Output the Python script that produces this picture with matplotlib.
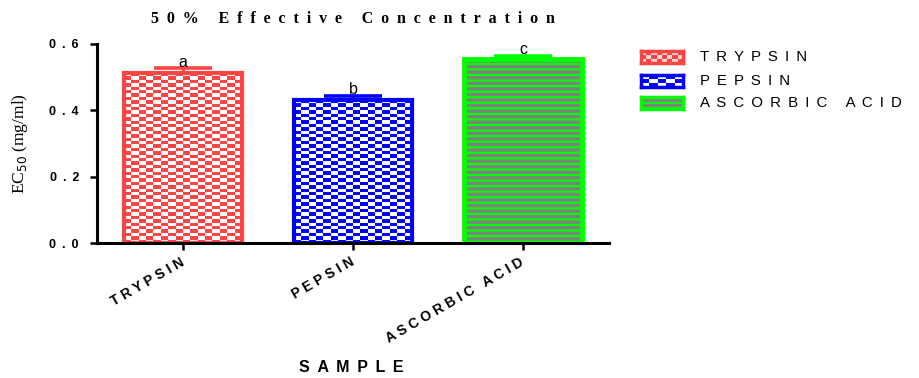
import numpy as np
import matplotlib
matplotlib.use("Agg")
import matplotlib.pyplot as plt
from matplotlib.colors import to_rgb

# EC50 values per sample, with upper error and significance letters
samples = ["TRYPSIN", "PEPSIN", "ASCORBIC ACID"]
ec50 = [0.512, 0.431, 0.555]
ec50_err = [0.015, 0.012, 0.009]
sig_letters = ["a", "b", "c"]
y_ticks = [0.0, 0.2, 0.4, 0.6]

red = "#fb4444"
blue = "#0000ff"
green = "#00ff00"
gray = "#808080"
colors = [red, blue, green]

SANS = ["Liberation Sans", "DejaVu Sans"]
SERIF = ["Liberation Serif", "DejaVu Serif"]


def spaced(text, gap="\u2009"):
    # wide letter spacing like the Prism export
    return gap.join(text)


def checker(color, nx, ny):
    img = np.ones((ny, nx, 3))
    mask = (np.add.outer(np.arange(ny), np.arange(nx)) % 2).astype(bool)
    img[mask] = to_rgb(color)
    return img


def stripes(line_color, fill_color, ny):
    img = np.ones((ny, 1, 3))
    img[:] = to_rgb(fill_color)
    img[::2] = to_rgb(line_color)
    return img


fig = plt.figure(figsize=(9.19, 3.78), dpi=100)
ax = fig.add_axes([97 / 919, 1 - 243 / 378, 512 / 919, 199 / 378])

x = np.arange(len(samples))
bar_w = 0.69
px_per_unit = 199 / 0.6

for i in range(len(samples)):
    if i < 2:
        bar = ax.bar(x[i], ec50[i], width=bar_w, facecolor="none",
                     edgecolor=colors[i], linewidth=3, zorder=2)[0]
        face = ax.bar(x[i], ec50[i], width=bar_w, facecolor="white",
                      edgecolor="none", zorder=1)[0]
        ny = int(round(ec50[i] * px_per_unit / 3.4))
        img = ax.imshow(checker(colors[i], 16, ny),
                        extent=(x[i] - bar_w / 2, x[i] + bar_w / 2, 0, ec50[i]),
                        aspect="auto", interpolation="nearest", zorder=1.5)
        img.set_clip_path(face)
    else:
        plt.rcParams["hatch.linewidth"] = 1.6
        ax.bar(x[i], ec50[i], width=bar_w, facecolor=gray, edgecolor=green,
               hatch="---", linewidth=3.5, zorder=2)
    ax.errorbar(x[i], ec50[i], yerr=[[0], [ec50_err[i]]], fmt="none",
                ecolor=colors[i], elinewidth=2.2, capsize=21, capthick=2.6,
                zorder=3)
    ax.text(x[i], ec50[i] + ec50_err[i] - 0.004, sig_letters[i],
            ha="center", va="bottom", fontsize=11.5, family=SANS)

ax.set_xlim(-0.506, 2.506)
ax.set_ylim(0, 0.6)

for side in ["top", "right"]:
    ax.spines[side].set_visible(False)
for side in ["left", "bottom"]:
    ax.spines[side].set_linewidth(2.2)

ax.set_yticks(y_ticks)
ax.set_yticklabels([spaced(f"{t:.1f}", " \u2009") for t in y_ticks],
                   fontsize=9, fontweight="bold", family=SANS)
ax.set_xticks(x)
ax.set_xticklabels([spaced(s, " ") for s in samples], rotation=30, ha="right",
                   va="center", rotation_mode="anchor", fontsize=10,
                   fontweight="bold", family=SANS)
ax.tick_params(axis="both", direction="out", length=5, width=1.8)
ax.tick_params(axis="x", pad=8)
ax.tick_params(axis="y", pad=8)

ax.set_title(spaced("50% Effective Concentration", "\u2009\u2009\u200a"),
             fontsize=11.5, fontweight="bold", family=SERIF, pad=15)
ax.set_ylabel("EC$_{50}$ (mg/ml)", fontsize=12.5, family=SERIF)
ax.yaxis.set_label_coords(-0.13, 0.5)
ax.set_xlabel(spaced("SAMPLE", " \u2009"), fontsize=11.5, fontweight="bold",
              family=SANS)
ax.xaxis.set_label_coords(0.496, -0.628)
ax.xaxis.label.set_va("center")

# legend swatches drawn as tiny axes so the textures show up
swatch_y = [57, 81, 103]
swatches = [checker(red, 8, 3), checker(blue, 5, 3), stripes(green, gray, 5)]
for i, name in enumerate(samples):
    sw = fig.add_axes([641 / 919, 1 - (swatch_y[i] + 6) / 378, 42 / 919, 12 / 378])
    img = swatches[i]
    if i == 0:
        img = np.where(img < 1, img, np.array([1.0, 0.85, 0.85]))
    sw.imshow(img, aspect="auto", interpolation="nearest")
    sw.set_xticks([])
    sw.set_yticks([])
    for sp in sw.spines.values():
        sp.set_color(colors[i])
        sp.set_linewidth(2.5)
    fig.text(700 / 919, 1 - swatch_y[i] / 378, spaced(name, " \u2009"),
             va="center", ha="left", fontsize=10.8, family=SANS)

fig.savefig("out.png", dpi=100)
